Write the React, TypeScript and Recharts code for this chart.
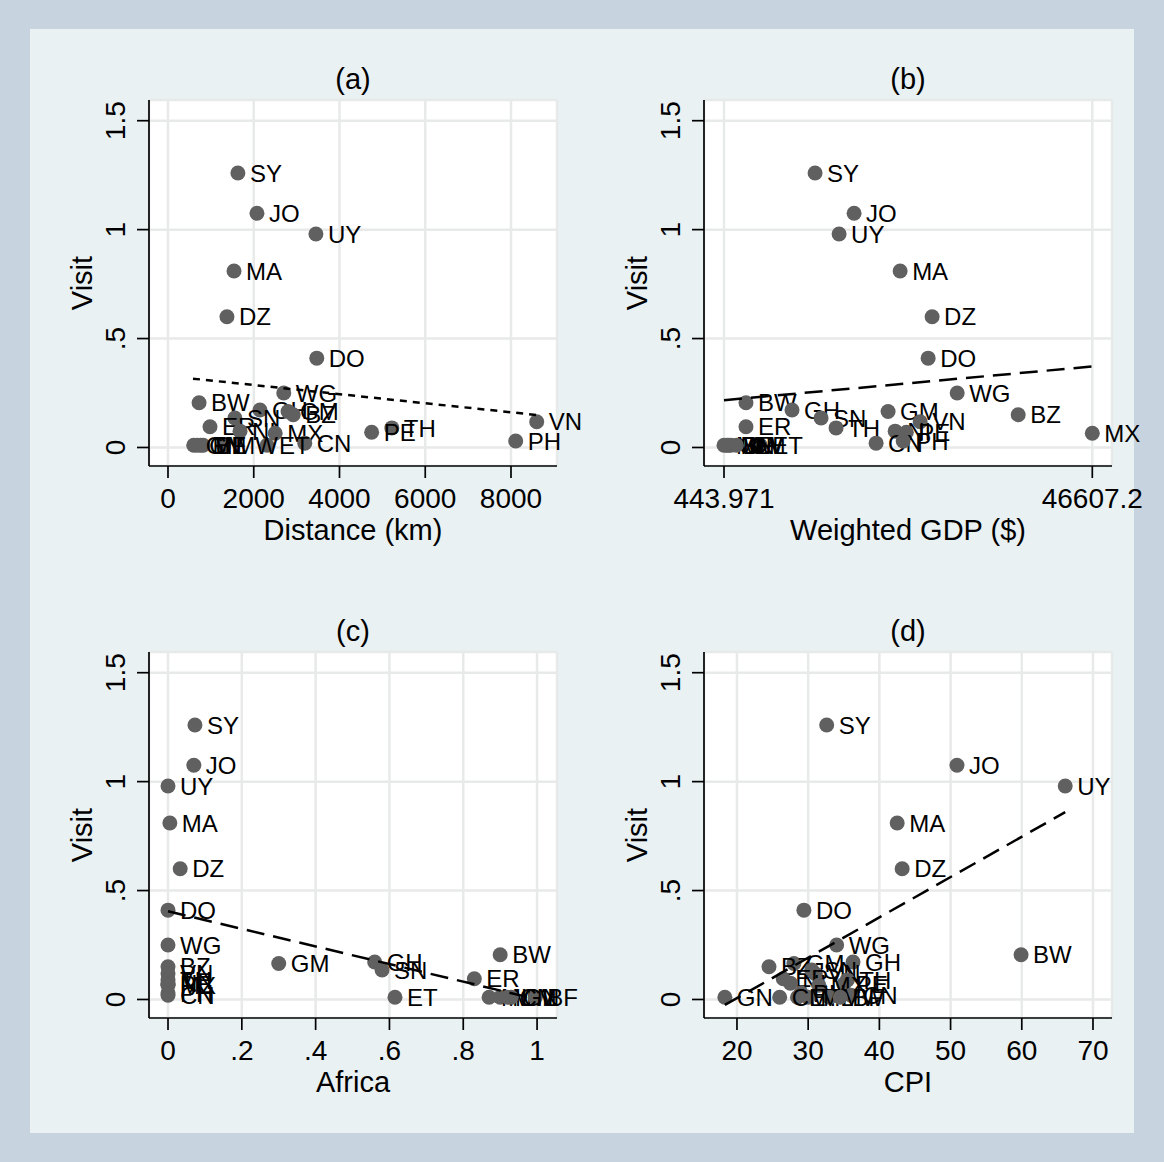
import { CartesianGrid, Scatter, ScatterChart, XAxis, YAxis } from "recharts";

const countries = ["SY", "JO", "UY", "MA", "DZ", "DO", "WG", "BW", "GH", "GM", "BZ", "SN", "VN", "ER", "TH", "NI", "PE", "MX", "CN", "PH", "ET", "MW", "ML", "BF", "GN", "CM"];
const visit = [1.26, 1.075, 0.98, 0.81, 0.6, 0.41, 0.25, 0.205, 0.172, 0.165, 0.15, 0.135, 0.118, 0.095, 0.09, 0.075, 0.07, 0.065, 0.02, 0.03, 0.01, 0.01, 0.01, 0.01, 0.01, 0.01];
const distanceKm = [1630, 2075, 3450, 1540, 1375, 3470, 2700, 725, 2145, 2800, 2920, 1560, 8600, 980, 5220, 1680, 4750, 2500, 3190, 8110, 2310, 1290, 760, 820, 600, 680];
const weightedGdp = [11860, 16750, 14870, 22520, 26530, 26030, 29670, 3200, 8970, 21010, 37320, 12610, 25030, 3200, 14490, 21900, 23300, 46607.2, 19510, 22900, 5000, 1000, 443.971, 1300, 800, 2000];
const africaShare = [0.073, 0.07, 0, 0.005, 0.033, 0, 0, 0.9, 0.56, 0.3, 0, 0.58, 0, 0.83, 0, 0, 0, 0, 0, 0, 0.615, 0.9, 0.87, 0.995, 0.93, 0.92];
const cpi = [32.6, 50.9, 66.1, 42.5, 43.2, 29.4, 34, 59.9, 36.3, 28, 24.5, 30.5, 31, 26.5, 35.5, 27.5, 35, 31.5, 36, 29, 28.5, 33, 30, 34.5, 18.3, 26];

const visitTicks = [0, 0.5, 1, 1.5];
const distanceTicks = [0, 2000, 4000, 6000, 8000];
const gdpTicks = [443.971, 46607.2];
const africaTicks = [0, 0.2, 0.4, 0.6, 0.8, 1];
const cpiTicks = [20, 30, 40, 50, 60, 70];

// fitted lines, end points
const fitDistance = [{ x: 583, y: 0.316 }, { x: 8600, y: 0.149 }];
const fitGdp = [{ x: 443.971, y: 0.217 }, { x: 46607.2, y: 0.372 }];
const fitAfrica = [{ x: 0, y: 0.405 }, { x: 0.99, y: 0.005 }];
const fitCpi = [{ x: 18.3, y: -0.025 }, { x: 66.1, y: 0.86 }];

const FONT = '"Liberation Sans", Arial, Helvetica, sans-serif';
const MARKER = "#606060";
const GRID = "#e8e9e9";
// panel svg is wider than its slot so marker labels and the last tick can spill right
const WIDTH = 600;
const HEIGHT = 552;
// plot area inside each panel (chart coords)
const PLOT_LEFT = 119;
const PLOT_TOP = 70;
const PLOT_W = 408;
const PLOT_H = 366;

const fmtVisit = (v: number) => (v === 0 ? "0" : v < 1 ? String(v).replace(/^0/, "") : String(v));

function Dot(p: any) {
  return (
    <g>
      <circle cx={p.cx} cy={p.cy} r={7.5} fill={MARKER} />
      <text x={p.cx + 12} y={p.cy} dy="0.36em" fontSize={24} fontFamily={FONT} fill="#000">
        {p.payload.name}
      </text>
    </g>
  );
}

function Panel({
  title,
  xLabel,
  xs,
  xTicks,
  xDomain,
  xFormat,
  fit,
  dash,
  left,
  top,
}: {
  title: string;
  xLabel: string;
  xs: number[];
  xTicks: number[];
  xDomain: [number, number];
  xFormat: (v: number) => string;
  fit: { x: number; y: number }[];
  dash: string;
  left: number;
  top: number;
}) {
  const points = countries.map((name, i) => ({ name, x: xs[i], y: visit[i] }));
  const cx = PLOT_LEFT + PLOT_W / 2;
  const bottom = PLOT_TOP + PLOT_H;
  return (
    <div style={{ position: "absolute", left, top }}>
      <ScatterChart width={WIDTH} height={HEIGHT} margin={{ top: PLOT_TOP, right: WIDTH - PLOT_LEFT - PLOT_W, bottom: 0, left: 0 }}>
        <CartesianGrid fill="#fff" fillOpacity={1} stroke={GRID} strokeWidth={2.5} />
        <XAxis
          type="number"
          dataKey="x"
          domain={xDomain}
          ticks={xTicks}
          height={HEIGHT - PLOT_TOP - PLOT_H}
          tickSize={12}
          axisLine={{ stroke: "#000", strokeWidth: 1.7 }}
          tickLine={{ stroke: "#000", strokeWidth: 1.7 }}
          tick={(t: any) => (
            <text x={t.x} y={bottom + 42} textAnchor="middle" fontSize={28} fontFamily={FONT} fill="#000">
              {xFormat(t.payload.value)}
            </text>
          )}
        />
        <YAxis
          type="number"
          dataKey="y"
          domain={[-0.085, 1.595]}
          ticks={visitTicks}
          width={PLOT_LEFT}
          tickSize={12}
          axisLine={{ stroke: "#000", strokeWidth: 1.7 }}
          tickLine={{ stroke: "#000", strokeWidth: 1.7 }}
          tick={(t: any) => (
            <text
              x={PLOT_LEFT - 24}
              y={t.y}
              transform={`rotate(-90 ${PLOT_LEFT - 24} ${t.y})`}
              textAnchor="middle"
              fontSize={28}
              fontFamily={FONT}
              fill="#000"
            >
              {fmtVisit(t.payload.value)}
            </text>
          )}
        />
        <Scatter data={points} shape={Dot} isAnimationActive={false} />
        <Scatter
          data={fit}
          shape={() => <g />}
          line={{ stroke: "#000", strokeWidth: 2.5, strokeDasharray: dash }}
          lineType="joint"
          isAnimationActive={false}
        />
        <text x={cx} y={PLOT_TOP - 11} textAnchor="middle" fontSize={29} fontFamily={FONT} fill="#000">
          {title}
        </text>
        <text x={cx} y={bottom + 74} textAnchor="middle" fontSize={29} fontFamily={FONT} fill="#000">
          {xLabel}
        </text>
        <text
          x={PLOT_LEFT - 57}
          y={PLOT_TOP + PLOT_H / 2}
          transform={`rotate(-90 ${PLOT_LEFT - 57} ${PLOT_TOP + PLOT_H / 2})`}
          textAnchor="middle"
          fontSize={29}
          fontFamily={FONT}
          fill="#000"
        >
          Visit
        </text>
      </ScatterChart>
    </div>
  );
}

export default function App() {
  return (
    <div style={{ position: "absolute", left: 0, top: 0, width: 1164, height: 1162, background: "#c7d4df", overflow: "hidden" }}>
      <div style={{ position: "absolute", left: 30, top: 29, width: 1104, height: 1104, background: "#e9f1f3" }} />
      <Panel
        title="(a)"
        xLabel="Distance (km)"
        xs={distanceKm}
        xTicks={distanceTicks}
        xDomain={[-443, 9073]}
        xFormat={(v) => String(v)}
        fit={fitDistance}
        dash="7 6"
        left={30}
        top={30}
      />
      <Panel
        title="(b)"
        xLabel="Weighted GDP ($)"
        xs={weightedGdp}
        xTicks={gdpTicks}
        xDomain={[-2063, 49076]}
        xFormat={(v) => String(v)}
        fit={fitGdp}
        dash="18 9"
        left={585}
        top={30}
      />
      <Panel
        title="(c)"
        xLabel="Africa"
        xs={africaShare}
        xTicks={africaTicks}
        xDomain={[-0.0515, 1.054]}
        xFormat={(v) => (v === 0 || v === 1 ? String(v) : String(v).replace(/^0/, ""))}
        fit={fitAfrica}
        dash="18 9"
        left={30}
        top={582}
      />
      <Panel
        title="(d)"
        xLabel="CPI"
        xs={cpi}
        xTicks={cpiTicks}
        xDomain={[15.37, 72.67]}
        xFormat={(v) => String(v)}
        fit={fitCpi}
        dash="18 9"
        left={585}
        top={582}
      />
    </div>
  );
}
